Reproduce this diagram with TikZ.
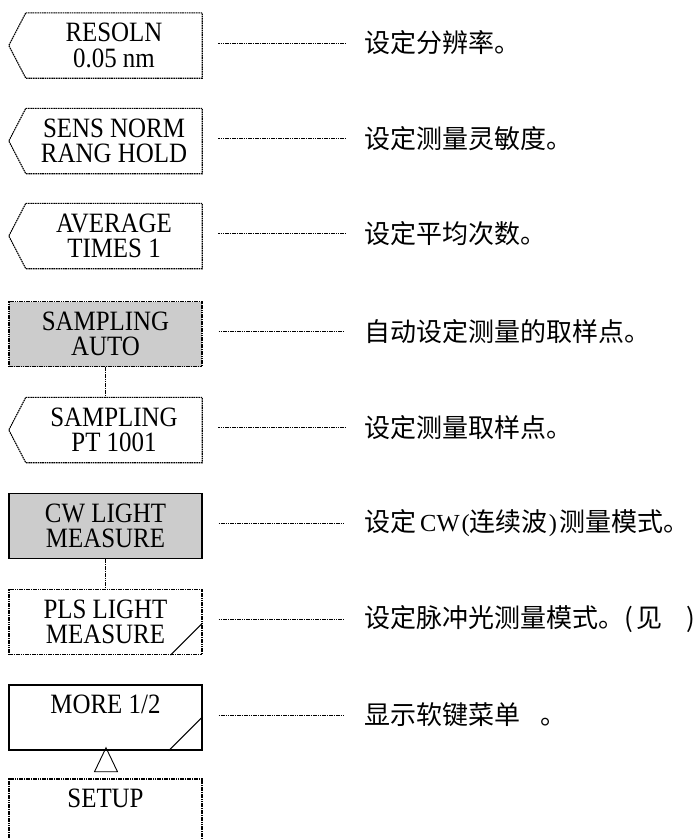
\documentclass[tikz,border=0pt]{standalone}
\usepackage{fontspec}
\setmainfont[FakeStretch=0.89]{Liberation Serif}
\newfontfamily\cjk{Noto Sans CJK SC}
\newfontfamily\latin{Liberation Serif}
\usepackage{tikz}
\usetikzlibrary{shapes.geometric,positioning,calc}

\begin{document}
\begin{tikzpicture}[x=1pt,y=-1pt,
   keyfont/.style={font=\fontsize{28pt}{25.7pt}\selectfont,align=center},
   rectkey/.style={keyfont,rectangle,minimum width=193pt,minimum height=65pt,inner sep=0pt},
   tabkey/.style={keyfont,rectangle,minimum width=176pt,minimum height=65pt,inner sep=0pt},
   keydash/.style={line width=1.1pt,dash pattern=on 1.6pt off 0.7pt},
   keysolid/.style={line width=1.3pt},
   lit/.style={fill=black!20},
   leader/.style={line width=0.9pt,dash pattern=on 1.6pt off 0.7pt,shorten <=16pt,shorten >=19pt},
   note/.style={font=\cjk\fontsize{26pt}{26pt}\selectfont,anchor=west,inner sep=0pt},
   tri/.style={draw,line width=0.9pt,isosceles triangle,isosceles triangle stretches,
     shape border rotate=90,minimum width=23pt,minimum height=24pt,inner sep=0pt}]
 \useasboundingbox (0,0) rectangle (695,839);
 % soft keys (explicit coordinates, pixel grid)
 \node[tabkey] (resoln)  at (114,45.5) {RESOLN\\0.05 nm};
 \node[tabkey] (sens)    at (114,141)  {SENS NORM\\RANG HOLD};
 \node[tabkey] (average) at (114,236)  {AVERAGE\\TIMES 1};
 \node[rectkey,lit,draw,keydash] (sampauto) at (105.5,334) {SAMPLING\\AUTO};
 \node[tabkey] (sampt)   at (114,430)  {SAMPLING\\PT 1001};
 \node[rectkey,lit,draw,keysolid] (cwlight) at (105.5,526) {CW LIGHT\\MEASURE};
 \node[rectkey,draw,keydash] (plslight) at (105.5,622) {PLS LIGHT\\MEASURE};
 \node[rectkey,draw,keysolid] (more) at (105.5,717.5) {MORE 1/2\\\mbox{}};
 \node[rectkey,draw,keydash] (setup) at (105.5,811.5) {SETUP\\\mbox{}};
 \node[tri] (up) at (106,764.5) {};
 % tab outlines
 \foreach \k in {resoln,sens,average,sampt}
   \draw[keydash] (\k.north west) -- (\k.north east) -- (\k.south east)
     -- (\k.south west) -- ([xshift=-17pt]\k.west) -- cycle;
 % sub-menu marks
 \draw[keysolid,line width=1pt] ([xshift=-32pt]plslight.south east) -- ([yshift=32pt]plslight.south east);
 \draw[keysolid,line width=1pt] ([xshift=-34pt]more.south east) -- ([yshift=34pt]more.south east);
 % links between keys
 \draw[keydash] (sampauto.south) -- (sampauto.south |- sampt.north);
 \draw[keydash] (cwlight.south) -- (plslight.north);
 % descriptions
 \node[note] (resoln-n)   at (364,43)  {设定分辨率。};
 \node[note] (sens-n)     at (364,138.5) {设定测量灵敏度。};
 \node[note] (average-n)  at (364,233.5) {设定平均次数。};
 \node[note] (sampauto-n) at (364,331.5) {自动设定测量的取样点。};
 \node[note] (sampt-n)    at (364,427.5) {设定测量取样点。};
 \node[note] (cwlight-n)  at (364,523.5)
   {设定\hspace{4pt}{\latin\fontsize{24.5pt}{26pt}\selectfont CW\hspace{2pt}(}连续波\hspace{1pt}{\latin\fontsize{24.5pt}{26pt}\selectfont)}\hspace{3pt}测量模式。};
 \node[note] (plslight-n) at (364,619.5) {设定脉冲光测量模式。(\hspace{4pt}见\hspace{24pt})};
 \node[note] (more-n)     at (364,715)   {显示软键菜单\hspace{20pt}。};
 \foreach \k in {resoln,sens,average,sampauto,sampt,cwlight,plslight,more}
   \draw[leader] ([yshift=2.5pt]\k.east) -- (\k-n.west);
\end{tikzpicture}
\end{document}
